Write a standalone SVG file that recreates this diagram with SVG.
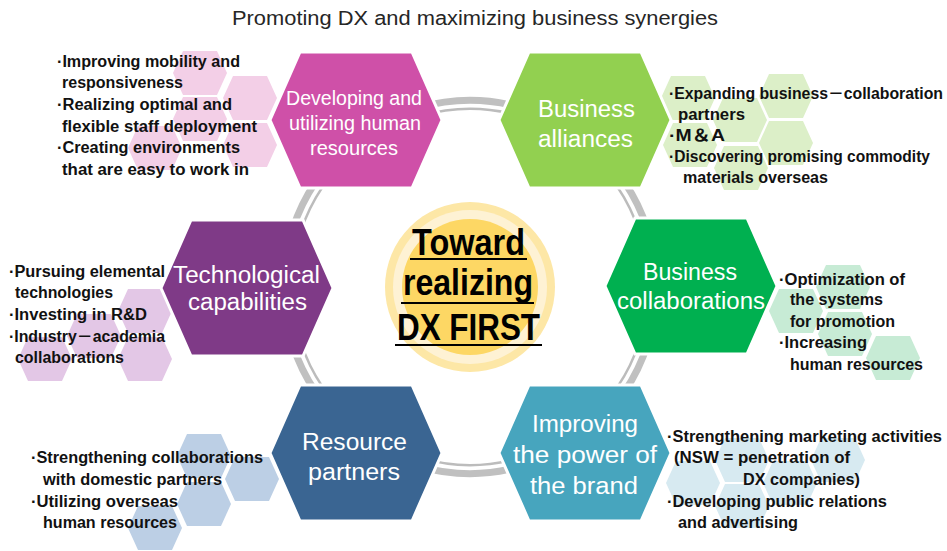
<svg xmlns="http://www.w3.org/2000/svg" width="947" height="551" viewBox="0 0 947 551">
<style>
text{font-family:"Liberation Sans","Noto Sans CJK JP",sans-serif}
.title{font-size:20px;fill:#262626}
.lbl{font-size:23px;fill:#fff}
.lbl1{font-size:20px;fill:#fff}
.b{font-size:16px;font-weight:bold;fill:#111}
.big{stroke:#fff;stroke-width:3}
.band{fill:none;stroke:#c0c0c0;stroke-width:7}
.thin{fill:none;stroke:#bcbcbc;stroke-width:2.5}
.ctr{font-size:37px;font-weight:bold;fill:#000}
.ul{stroke:#000;stroke-width:2}
</style>
<defs>
<polygon id="hx" points="-86,0 -56,-68 56,-68 86,0 56,68 -56,68"/>
<polygon id="sh" points="-27,0 -17,-22 17,-22 27,0 17,22 -17,22"/>
</defs>
<rect width="947" height="551" fill="#fff"/>
<text class="title" x="232" y="25" textLength="486" lengthAdjust="spacingAndGlyphs">Promoting DX and maximizing business synergies</text>

<g id="connectors">
<path class="band" d="M650.96,241.89 A186.5,186.5 0 0 0 599.56,152.85"/>
<path class="thin" d="M642.71,243.94 A178,178 0 0 0 593.66,158.96"/>
<path class="band" d="M521.40,107.72 A186.5,186.5 0 0 0 418.60,107.72"/>
<path class="thin" d="M519.06,115.89 A178,178 0 0 0 420.94,115.89"/>
<path class="band" d="M340.44,152.85 A186.5,186.5 0 0 0 289.04,241.89"/>
<path class="thin" d="M346.34,158.96 A178,178 0 0 0 297.29,243.94"/>
<path class="band" d="M289.04,332.11 A186.5,186.5 0 0 0 340.44,421.15"/>
<path class="thin" d="M297.29,330.06 A178,178 0 0 0 346.34,415.04"/>
<path class="band" d="M418.60,466.28 A186.5,186.5 0 0 0 521.40,466.28"/>
<path class="thin" d="M420.94,458.11 A178,178 0 0 0 519.06,458.11"/>
<path class="band" d="M599.56,421.15 A186.5,186.5 0 0 0 650.96,332.11"/>
<path class="thin" d="M593.66,415.04 A178,178 0 0 0 642.71,330.06"/>
</g>

<g id="center">
<circle cx="470" cy="287" r="85" fill="#fde7a6"/>
<circle cx="470" cy="287" r="77" fill="#fef2d4"/>
<circle cx="470" cy="287" r="68" fill="#fdd764"/>
<text class="ctr" x="412" y="255" textLength="113" lengthAdjust="spacingAndGlyphs">Toward</text>
<line class="ul" x1="410" y1="259" x2="527" y2="259"/>
<text class="ctr" x="403" y="295" textLength="130" lengthAdjust="spacingAndGlyphs">realizing</text>
<line class="ul" x1="401" y1="303" x2="534" y2="303"/>
<text class="ctr" x="397" y="340" textLength="143" lengthAdjust="spacingAndGlyphs">DX FIRST</text>
<line class="ul" x1="395" y1="345" x2="542" y2="345"/>
</g>

<g id="human-resources">
<use href="#sh" x="200" y="73" fill="#f3cfe7"/>
<use href="#sh" x="250" y="98" fill="#f3cfe7"/>
<use href="#sh" x="200" y="119" fill="#f3cfe7"/>
<use href="#sh" x="250" y="145" fill="#f3cfe7"/>
<use href="#sh" x="155" y="148" fill="#f3cfe7"/>
<use href="#hx" x="356" y="120" class="big" fill="#cf50a8"/>
<text class="lbl1" x="286" y="105" textLength="136" lengthAdjust="spacingAndGlyphs">Developing and</text>
<text class="lbl1" x="289" y="130" textLength="132" lengthAdjust="spacingAndGlyphs">utilizing human</text>
<text class="lbl1" x="310" y="155" textLength="88" lengthAdjust="spacingAndGlyphs">resources</text>
<text class="b" x="57" y="67" textLength="183" lengthAdjust="spacingAndGlyphs">·Improving mobility and</text>
<text class="b" x="62" y="88" textLength="121" lengthAdjust="spacingAndGlyphs">responsiveness</text>
<text class="b" x="57" y="110" textLength="175" lengthAdjust="spacingAndGlyphs">·Realizing optimal and</text>
<text class="b" x="62" y="132" textLength="195" lengthAdjust="spacingAndGlyphs">flexible staff deployment</text>
<text class="b" x="57" y="153" textLength="183" lengthAdjust="spacingAndGlyphs">·Creating environments</text>
<text class="b" x="62" y="175" textLength="187" lengthAdjust="spacingAndGlyphs">that are easy to work in</text>
</g>

<g id="business-alliances">
<use href="#sh" x="688" y="98" fill="#dcefc8"/>
<use href="#sh" x="740" y="120" fill="#dcefc8"/>
<use href="#sh" x="786" y="96" fill="#dcefc8"/>
<use href="#sh" x="786" y="143" fill="#dcefc8"/>
<use href="#sh" x="690" y="145" fill="#dcefc8"/>
<use href="#sh" x="741" y="168" fill="#dcefc8"/>
<use href="#hx" x="585" y="120" class="big" fill="#92d050"/>
<text class="lbl" x="538" y="117" textLength="97" lengthAdjust="spacingAndGlyphs">Business</text>
<text class="lbl" x="538" y="147" textLength="95" lengthAdjust="spacingAndGlyphs">alliances</text>
<text class="b" x="669" y="99" textLength="274" lengthAdjust="spacingAndGlyphs">·Expanding business－collaboration</text>
<text class="b" x="678" y="120" textLength="67" lengthAdjust="spacingAndGlyphs">partners</text>
<text class="b" x="669" y="141" textLength="56" lengthAdjust="spacingAndGlyphs">·M＆A</text>
<text class="b" x="669" y="162" textLength="261" lengthAdjust="spacingAndGlyphs">·Discovering promising commodity</text>
<text class="b" x="683" y="183" textLength="145" lengthAdjust="spacingAndGlyphs">materials overseas</text>
</g>

<g id="technological-capabilities">
<use href="#sh" x="145" y="311" fill="#e3c7e6"/>
<use href="#sh" x="145" y="359" fill="#e3c7e6"/>
<use href="#sh" x="94" y="336" fill="#e3c7e6"/>
<use href="#sh" x="45" y="359" fill="#e3c7e6"/>
<use href="#hx" x="247" y="288" class="big" fill="#7f3a87"/>
<text class="lbl" x="173" y="283" textLength="147" lengthAdjust="spacingAndGlyphs">Technological</text>
<text class="lbl" x="188" y="310" textLength="119" lengthAdjust="spacingAndGlyphs">capabilities</text>
<text class="b" x="9" y="277" textLength="156" lengthAdjust="spacingAndGlyphs">·Pursuing elemental</text>
<text class="b" x="15" y="298" textLength="98" lengthAdjust="spacingAndGlyphs">technologies</text>
<text class="b" x="9" y="320" textLength="138" lengthAdjust="spacingAndGlyphs">·Investing in R&amp;D</text>
<text class="b" x="9" y="342" textLength="156" lengthAdjust="spacingAndGlyphs">·Industry－academia</text>
<text class="b" x="15" y="363" textLength="109" lengthAdjust="spacingAndGlyphs">collaborations</text>
</g>

<g id="business-collaborations">
<use href="#sh" x="843" y="287" fill="#c7ebd5"/>
<use href="#sh" x="796" y="311" fill="#c7ebd5"/>
<use href="#sh" x="845" y="334" fill="#c7ebd5"/>
<use href="#sh" x="893" y="358" fill="#c7ebd5"/>
<use href="#hx" x="691" y="286" class="big" fill="#00b050"/>
<text class="lbl" x="643" y="280" textLength="94" lengthAdjust="spacingAndGlyphs">Business</text>
<text class="lbl" x="617" y="309" textLength="148" lengthAdjust="spacingAndGlyphs">collaborations</text>
<text class="b" x="779" y="285" textLength="126" lengthAdjust="spacingAndGlyphs">·Optimization of</text>
<text class="b" x="790" y="305" textLength="93" lengthAdjust="spacingAndGlyphs">the systems</text>
<text class="b" x="790" y="327" textLength="105" lengthAdjust="spacingAndGlyphs">for promotion</text>
<text class="b" x="779" y="348" textLength="88" lengthAdjust="spacingAndGlyphs">·Increasing</text>
<text class="b" x="790" y="370" textLength="133" lengthAdjust="spacingAndGlyphs">human resources</text>
</g>

<g id="resource-partners">
<use href="#sh" x="204" y="456" fill="#bccfe5"/>
<use href="#sh" x="252" y="479" fill="#bccfe5"/>
<use href="#sh" x="204" y="504" fill="#bccfe5"/>
<use href="#sh" x="155" y="528" fill="#bccfe5"/>
<use href="#hx" x="356" y="453" class="big" fill="#3a6592"/>
<text class="lbl" x="302" y="450" textLength="105" lengthAdjust="spacingAndGlyphs">Resource</text>
<text class="lbl" x="308" y="480" textLength="92" lengthAdjust="spacingAndGlyphs">partners</text>
<text class="b" x="31" y="463" textLength="232" lengthAdjust="spacingAndGlyphs">·Strengthening collaborations</text>
<text class="b" x="43" y="485" textLength="179" lengthAdjust="spacingAndGlyphs">with domestic partners</text>
<text class="b" x="31" y="507" textLength="147" lengthAdjust="spacingAndGlyphs">·Utilizing overseas</text>
<text class="b" x="43" y="528" textLength="134" lengthAdjust="spacingAndGlyphs">human resources</text>
</g>

<g id="brand-power">
<use href="#sh" x="693" y="483" fill="#d7eaf1"/>
<use href="#sh" x="742" y="460" fill="#d7eaf1"/>
<use href="#sh" x="742" y="506" fill="#d7eaf1"/>
<use href="#sh" x="790" y="483" fill="#d7eaf1"/>
<use href="#sh" x="838" y="460" fill="#d7eaf1"/>
<use href="#hx" x="585" y="453" class="big" fill="#47a5be"/>
<text class="lbl" x="532" y="432" textLength="106" lengthAdjust="spacingAndGlyphs">Improving</text>
<text class="lbl" x="513" y="463" textLength="144" lengthAdjust="spacingAndGlyphs">the power of</text>
<text class="lbl" x="530" y="494" textLength="108" lengthAdjust="spacingAndGlyphs">the brand</text>
<text class="b" x="667" y="442" textLength="275" lengthAdjust="spacingAndGlyphs">·Strengthening marketing activities</text>
<text class="b" x="674" y="463" textLength="176" lengthAdjust="spacingAndGlyphs">(NSW = penetration of</text>
<text class="b" x="743" y="485" textLength="117" lengthAdjust="spacingAndGlyphs">DX companies)</text>
<text class="b" x="667" y="507" textLength="220" lengthAdjust="spacingAndGlyphs">·Developing public relations</text>
<text class="b" x="678" y="528" textLength="120" lengthAdjust="spacingAndGlyphs">and advertising</text>
</g>
</svg>
